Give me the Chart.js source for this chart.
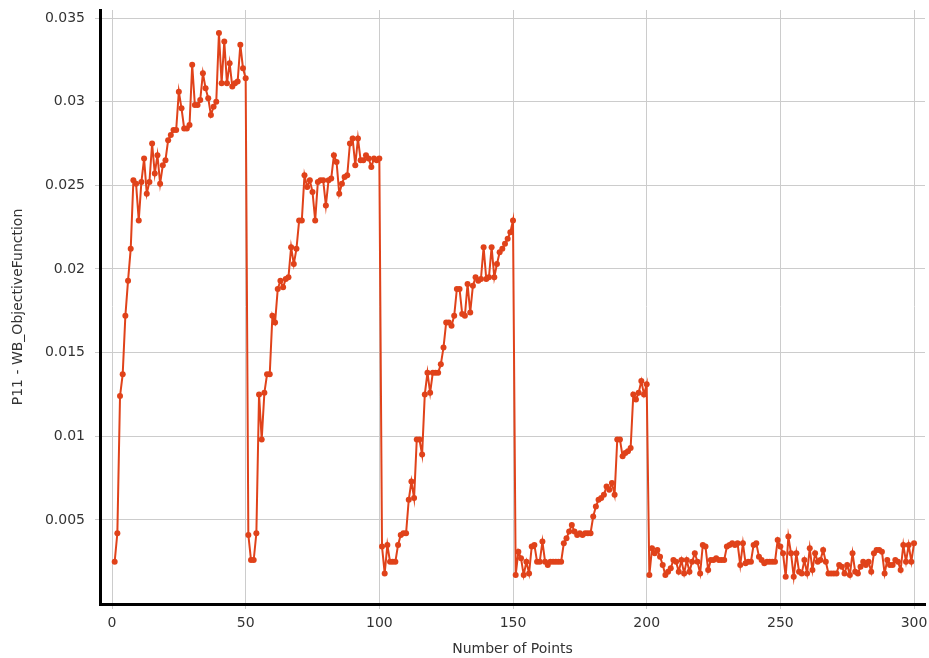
<!DOCTYPE html>
<html>
<head>
<meta charset="utf-8">
<script src="https://cdn.jsdelivr.net/npm/chart.js@4.4.1/dist/chart.umd.min.js"></script>
<style>
  html, body { margin: 0; padding: 0; background: #fff; }
  canvas { display: block; }
</style>
</head>
<body>
<canvas id="myChart" width="929" height="658"></canvas>
<script>
// objective value per evaluated point, in runs of 50
const run1 = [0.0025, 0.0042, 0.0124, 0.0137, 0.0172, 0.0193, 0.0212, 0.0253, 0.0251, 0.0229,
  0.0252, 0.0266, 0.0245, 0.0252, 0.0275, 0.0257, 0.0268, 0.0251, 0.0262, 0.0265,
  0.0277, 0.0280, 0.0283, 0.0283, 0.0306, 0.0296, 0.0284, 0.0284, 0.0286, 0.0322,
  0.0298, 0.0298, 0.0301, 0.0317, 0.0308, 0.0302, 0.0292, 0.0297, 0.0300, 0.0341,
  0.0311, 0.0336, 0.0311, 0.0323, 0.0309, 0.0311, 0.0312, 0.0334, 0.0320, 0.0314];
const run2 = [0.0041, 0.0026, 0.0026, 0.0042, 0.0125, 0.0098, 0.0126, 0.0137, 0.0137, 0.0172,
  0.0168, 0.0188, 0.0193, 0.0189, 0.0194, 0.0195, 0.0213, 0.0203, 0.0212, 0.0229,
  0.0229, 0.0256, 0.0249, 0.0253, 0.0246, 0.0229, 0.0252, 0.0253, 0.0253, 0.0238,
  0.0253, 0.0254, 0.0268, 0.0264, 0.0245, 0.0251, 0.0255, 0.0256, 0.0275, 0.0278,
  0.0262, 0.0278, 0.0265, 0.0265, 0.0268, 0.0266, 0.0261, 0.0266, 0.0265, 0.0266];
const run3 = [0.0034, 0.0018, 0.0035, 0.0025, 0.0025, 0.0025, 0.0035, 0.0041, 0.0042, 0.0042,
  0.0062, 0.0073, 0.0063, 0.0098, 0.0098, 0.0089, 0.0125, 0.0138, 0.0126, 0.0138,
  0.0138, 0.0138, 0.0143, 0.0153, 0.0168, 0.0168, 0.0166, 0.0172, 0.0188, 0.0188,
  0.0173, 0.0172, 0.0191, 0.0174, 0.0190, 0.0195, 0.0193, 0.0194, 0.0213, 0.0194,
  0.0195, 0.0213, 0.0195, 0.0203, 0.0210, 0.0212, 0.0215, 0.0218, 0.0222, 0.0229];
const run4 = [0.0017, 0.0031, 0.0027, 0.0017, 0.0025, 0.0018, 0.0034, 0.0035, 0.0025, 0.0025,
  0.0037, 0.0025, 0.0023, 0.0025, 0.0025, 0.0025, 0.0025, 0.0025, 0.0036, 0.0039,
  0.0043, 0.0047, 0.0043, 0.0041, 0.0042, 0.0041, 0.0042, 0.0042, 0.0042, 0.0052,
  0.0058, 0.0062, 0.0063, 0.0065, 0.0070, 0.0068, 0.0072, 0.0065, 0.0098, 0.0098,
  0.0088, 0.0090, 0.0091, 0.0093, 0.0125, 0.0122, 0.0126, 0.0133, 0.0125, 0.0131];
const run5 = [0.0017, 0.0033, 0.0030, 0.0032, 0.0028, 0.0023, 0.0017, 0.0019, 0.0021, 0.0026,
  0.0025, 0.0019, 0.0026, 0.0018, 0.0026, 0.0019, 0.0025, 0.0030, 0.0025, 0.0018,
  0.0035, 0.0034, 0.0020, 0.0026, 0.0026, 0.0027, 0.0026, 0.0026, 0.0026, 0.0034,
  0.0035, 0.0036, 0.0035, 0.0036, 0.0023, 0.0036, 0.0024, 0.0025, 0.0025, 0.0035,
  0.0036, 0.0028, 0.0026, 0.0024, 0.0025, 0.0025, 0.0025, 0.0025, 0.0038, 0.0034];
const run6 = [0.0030, 0.0016, 0.0040, 0.0030, 0.0016, 0.0030, 0.0019, 0.0018, 0.0026, 0.0018,
  0.0033, 0.0020, 0.0030, 0.0025, 0.0026, 0.0032, 0.0025, 0.0018, 0.0018, 0.0018,
  0.0018, 0.0023, 0.0022, 0.0018, 0.0023, 0.0017, 0.0030, 0.0019, 0.0018, 0.0022,
  0.0025, 0.0023, 0.0025, 0.0019, 0.0030, 0.0032, 0.0032, 0.0031, 0.0018, 0.0026,
  0.0023, 0.0023, 0.0026, 0.0025, 0.0020, 0.0035, 0.0025, 0.0035, 0.0025, 0.0036];

const xTicks = [0, 50, 100, 150, 200, 250, 300];
const yTicks = [0.005, 0.01, 0.015, 0.02, 0.025, 0.03, 0.035];

const values = run1.concat(run2, run3, run4, run5, run6);
const points = values.map((v, i) => ({ x: i + 1, y: v }));

const lineColor = 'rgb(224, 66, 26)';
const tickFont = { family: 'DejaVu Sans', size: 14 };
const titleFont = { family: 'DejaVu Sans', size: 14 };

const ctx = document.getElementById('myChart').getContext('2d');

new Chart(ctx, {
  type: 'line',
  data: {
    datasets: [{
      label: 'P11 - WB_ObjectiveFunction',
      data: points,
      borderColor: lineColor,
      backgroundColor: lineColor,
      borderWidth: 2,
      pointRadius: 3,
      pointBorderWidth: 0,
      pointBackgroundColor: lineColor,
      tension: 0,
      fill: false
    }]
  },
  options: {
    responsive: false,
    animation: false,
    layout: { padding: { top: 10, right: -2, left: 0, bottom: 0 } },
    plugins: {
      legend: { display: false },
      tooltip: { enabled: false }
    },
    scales: {
      x: {
        type: 'linear',
        min: -4.49,
        max: 304.11,
        afterBuildTicks: (s) => { s.ticks = xTicks.map(v => ({ value: v })); },
        afterFit: (s) => { s.height = 54; s.paddingLeft = 0; s.paddingRight = 0; },
        border: { display: true, color: '#000', width: 3 },
        grid: { color: '#cccccc', lineWidth: 1, tickLength: 5 },
        ticks: { color: '#333', font: tickFont, padding: 6, maxRotation: 0 },
        title: { display: true, text: 'Number of Points', color: '#333', font: titleFont, padding: { top: 2, bottom: 0 } }
      },
      y: {
        type: 'linear',
        min: -0.00003,
        max: 0.03548,
        afterBuildTicks: (s) => { s.ticks = yTicks.map(v => ({ value: v })); },
        afterFit: (s) => { s.width = 100; s.paddingTop = 0; s.paddingBottom = 0; },
        border: { display: true, color: '#000', width: 3 },
        grid: { color: '#cccccc', lineWidth: 1, tickLength: 5 },
        ticks: { color: '#333', font: tickFont, padding: 10, callback: (v) => String(v) },
        title: { display: true, text: 'P11 - WB_ObjectiveFunction', color: '#333', font: titleFont, padding: { top: 10, bottom: 0 } }
      }
    }
  }
});
</script>
</body>
</html>
